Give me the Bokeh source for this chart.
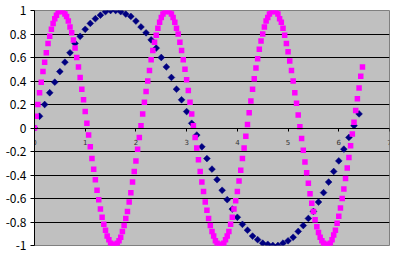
import math
from bokeh.plotting import figure
from bokeh.models import Range1d, FixedTicker, LinearAxis
from bokeh.embed import file_html
from bokeh.resources import INLINE

# ---- data ----
navy_x = [0.0, 0.1, 0.2, 0.3, 0.4, 0.5, 0.6, 0.7, 0.8, 0.9,
          1.0, 1.1, 1.2, 1.3, 1.4, 1.5, 1.6, 1.7, 1.8, 1.9,
          2.0, 2.1, 2.2, 2.3, 2.4, 2.5, 2.6, 2.7, 2.8, 2.9,
          3.0, 3.1, 3.2, 3.3, 3.4, 3.5, 3.6, 3.7, 3.8, 3.9,
          4.0, 4.1, 4.2, 4.3, 4.4, 4.5, 4.6, 4.7, 4.8, 4.9,
          5.0, 5.1, 5.2, 5.3, 5.4, 5.5, 5.6, 5.7, 5.8, 5.9,
          6.0, 6.1, 6.2, 6.3, 6.4]
navy_y = [0.00, 0.10, 0.20, 0.30, 0.39, 0.48, 0.56, 0.64, 0.72, 0.78,
          0.84, 0.89, 0.93, 0.96, 0.99, 1.00, 1.00, 0.99, 0.97, 0.95,
          0.91, 0.86, 0.81, 0.75, 0.68, 0.60, 0.52, 0.43, 0.33, 0.24,
          0.14, 0.04, -0.06, -0.16, -0.26, -0.35, -0.44, -0.53, -0.61, -0.69,
          -0.76, -0.82, -0.87, -0.92, -0.95, -0.98, -0.99, -1.00, -1.00, -0.98,
          -0.96, -0.93, -0.88, -0.83, -0.77, -0.71, -0.63, -0.55, -0.46, -0.37,
          -0.28, -0.18, -0.08, 0.02, 0.12]

magenta_x = [
    0.000, 0.033, 0.067, 0.100, 0.133, 0.167, 0.200, 0.233, 0.267, 0.300,
    0.333, 0.367, 0.400, 0.433, 0.467, 0.500, 0.533, 0.567, 0.600, 0.633,
    0.667, 0.700, 0.733, 0.767, 0.800, 0.833, 0.867, 0.900, 0.933, 0.967,
    1.000, 1.033, 1.067, 1.100, 1.133, 1.167, 1.200, 1.233, 1.267, 1.300,
    1.333, 1.367, 1.400, 1.433, 1.467, 1.500, 1.533, 1.567, 1.600, 1.633,
    1.667, 1.700, 1.733, 1.767, 1.800, 1.833, 1.867, 1.900, 1.933, 1.967,
    2.000, 2.033, 2.067, 2.100, 2.133, 2.167, 2.200, 2.233, 2.267, 2.300,
    2.333, 2.367, 2.400, 2.433, 2.467, 2.500, 2.533, 2.567, 2.600, 2.633,
    2.667, 2.700, 2.733, 2.767, 2.800, 2.833, 2.867, 2.900, 2.933, 2.967,
    3.000, 3.033, 3.067, 3.100, 3.133, 3.167, 3.200, 3.233, 3.267, 3.300,
    3.333, 3.367, 3.400, 3.433, 3.467, 3.500, 3.533, 3.567, 3.600, 3.633,
    3.667, 3.700, 3.733, 3.767, 3.800, 3.833, 3.867, 3.900, 3.933, 3.967,
    4.000, 4.033, 4.067, 4.100, 4.133, 4.167, 4.200, 4.233, 4.267, 4.300,
    4.333, 4.367, 4.400, 4.433, 4.467, 4.500, 4.533, 4.567, 4.600, 4.633,
    4.667, 4.700, 4.733, 4.767, 4.800, 4.833, 4.867, 4.900, 4.933, 4.967,
    5.000, 5.033, 5.067, 5.100, 5.133, 5.167, 5.200, 5.233, 5.267, 5.300,
    5.333, 5.367, 5.400, 5.433, 5.467, 5.500, 5.533, 5.567, 5.600, 5.633,
    5.667, 5.700, 5.733, 5.767, 5.800, 5.833, 5.867, 5.900, 5.933, 5.967,
    6.000, 6.033, 6.067, 6.100, 6.133, 6.167, 6.200, 6.233, 6.267, 6.300,
    6.333, 6.367, 6.400, 6.433, 6.467]
magenta_y = [
    0.00, 0.10, 0.20, 0.30, 0.39, 0.48, 0.56, 0.64, 0.72, 0.78,
    0.84, 0.89, 0.93, 0.96, 0.99, 1.00, 1.00, 0.99, 0.97, 0.95,
    0.91, 0.86, 0.81, 0.75, 0.68, 0.60, 0.52, 0.43, 0.33, 0.24,
    0.14, 0.04, -0.06, -0.16, -0.26, -0.35, -0.44, -0.53, -0.61, -0.69,
    -0.76, -0.82, -0.87, -0.92, -0.95, -0.98, -0.99, -1.00, -1.00, -0.98,
    -0.96, -0.93, -0.88, -0.83, -0.77, -0.71, -0.63, -0.55, -0.46, -0.37,
    -0.28, -0.18, -0.08, 0.02, 0.12, 0.22, 0.31, 0.40, 0.49, 0.58,
    0.66, 0.73, 0.79, 0.85, 0.90, 0.94, 0.97, 0.99, 1.00, 1.00,
    0.99, 0.97, 0.94, 0.90, 0.85, 0.80, 0.73, 0.66, 0.58, 0.50,
    0.41, 0.32, 0.22, 0.12, 0.02, -0.08, -0.17, -0.27, -0.37, -0.46,
    -0.54, -0.63, -0.70, -0.77, -0.83, -0.88, -0.92, -0.96, -0.98, -1.00,
    -1.00, -0.99, -0.98, -0.95, -0.92, -0.88, -0.82, -0.76, -0.69, -0.62,
    -0.54, -0.45, -0.36, -0.26, -0.17, -0.07, 0.03, 0.13, 0.23, 0.33,
    0.42, 0.51, 0.59, 0.67, 0.74, 0.80, 0.86, 0.91, 0.94, 0.97,
    0.99, 1.00, 1.00, 0.99, 0.97, 0.93, 0.90, 0.85, 0.79, 0.72,
    0.65, 0.57, 0.49, 0.40, 0.30, 0.21, 0.11, 0.01, -0.09, -0.19,
    -0.29, -0.38, -0.47, -0.56, -0.64, -0.71, -0.78, -0.84, -0.89, -0.93,
    -0.96, -0.98, -1.00, -1.00, -0.99, -0.98, -0.95, -0.91, -0.87, -0.81,
    -0.75, -0.68, -0.60, -0.52, -0.43, -0.34, -0.25, -0.15, -0.05, 0.05,
    0.15, 0.25, 0.34, 0.44, 0.52]

x_ticks = [0, 1, 2, 3, 4, 5, 6, 7]
x_tick_labels = ["0", "1", "2", "3", "4", "5", "6", "7"]
y_ticks = [-1, -0.8, -0.6, -0.4, -0.2, 0, 0.2, 0.4, 0.6, 0.8, 1]
y_tick_labels = ["-1", "-0.8", "-0.6", "-0.4", "-0.2", "0", "0.2", "0.4", "0.6", "0.8", "1"]

# ---- figure ----
p = figure(width=396, height=259,
           x_range=Range1d(0, 7), y_range=Range1d(-1, 1),
           output_backend="svg", toolbar_location=None,
           x_axis_location=None,
           min_border_left=34, min_border_right=7,
           min_border_top=10, min_border_bottom=14,
           background_fill_color="#C0C0C0", border_fill_color="white",
           outline_line_color="#808080", outline_line_width=1)

# y axis
yax = p.yaxis[0]
yax.ticker = FixedTicker(ticks=y_ticks)
yax.major_label_overrides = {t: l for t, l in zip(y_ticks, y_tick_labels)}
yax.minor_tick_line_color = None
yax.major_tick_in = 0
yax.major_tick_out = 4
yax.major_label_standoff = 4
yax.axis_line_color = "black"
yax.major_tick_line_color = "black"
yax.major_label_text_font = "Noto Sans CJK JP"
yax.major_label_text_font_size = "12px"
yax.major_label_text_color = "black"

# horizontal grid
for g in p.ygrid:
    g.ticker = FixedTicker(ticks=y_ticks)
    g.grid_line_color = "black"
    g.grid_line_width = 1
for g in p.xgrid:
    g.grid_line_color = None

# x axis crossing at y = 0
xax = LinearAxis(fixed_location=0,
                 ticker=FixedTicker(ticks=x_ticks),
                 major_label_overrides={t: l for t, l in zip(x_ticks, x_tick_labels)})
xax.minor_tick_line_color = None
xax.major_tick_in = 0
xax.major_tick_out = 3
xax.major_label_standoff = 8
xax.axis_line_color = "black"
xax.major_tick_line_color = "black"
xax.major_label_text_font = "DejaVu Sans"
xax.major_label_text_font_size = "7px"
xax.major_label_text_color = "#333333"
p.add_layout(xax, "below")

# series
p.scatter(navy_x, navy_y, marker="square", angle=math.pi / 4, size=4.8,
          fill_color="#000080", line_color="#000080", line_width=0.5)
p.scatter(magenta_x, magenta_y, marker="square", size=5.5,
          fill_color="#FF00FF", line_color=None)

open("out.html", "w").write(file_html(p, INLINE))
